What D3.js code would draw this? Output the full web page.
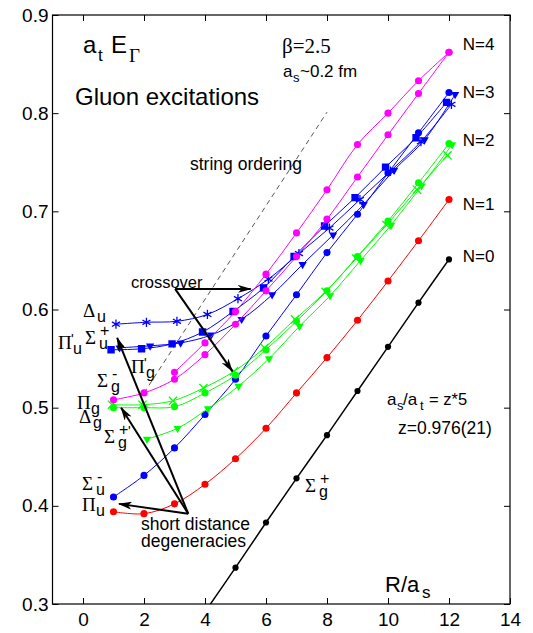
<!DOCTYPE html>
<html><head><meta charset="utf-8">
<script src="https://cdn.jsdelivr.net/npm/d3@7"></script>
<style>body{margin:0;background:#fff}svg{display:block}</style>
</head><body><svg id="c" width="533" height="633"></svg>
<script>
// ---------- data ----------
const rAll   = [1,2,3,4,5,6,7,8,9,10,11,12];
const rFrom2 = [2,3,4,5,6,7,8,9,10,11,12];
const rFrom3 = [3,4,5,6,7,8,9,10,11,12];
const rFrom4 = [4,5,6,7,8,9,10,11,12];

const sigmaGPlus      = [0.292,0.337,0.383,0.428,0.472,0.517,0.562,0.607,0.651];               // N=0 (black)
const piU             = [0.394,0.392,0.402,0.422,0.448,0.479,0.515,0.551,0.589,0.629,0.670,0.712]; // red
const sigmaUMinus     = [0.409,0.431,0.459,0.493,0.529,0.573,0.615,0.658,0.697,0.739,0.780,0.821]; // blue circles
const deltaU          = [0.585,0.587,0.588,0.595,0.611,0.631,0.657,0.683,0.712,0.741,0.771,0.809]; // blue asterisks
const piPrimeU        = [0.559,0.560,0.565,0.577,0.598,0.622,0.654,0.685,0.714,0.745,0.775,0.811]; // blue squares
const sigmaUPlus      = [0.561,0.563,0.566,0.574,0.590,0.615,0.646,0.676,0.707,0.742,0.773,0.819]; // blue triangles
const piG             = [0.503,0.503,0.507,0.520,0.537,0.561,0.590,0.618,0.652,0.686,0.722,0.757]; // green x
const deltaG          = [0.500,0.500,0.501,0.515,0.533,0.559,0.588,0.619,0.654,0.690,0.729,0.769]; // green circles
const sigmaGPlusPrime = [0.468,0.479,0.499,0.522,0.550,0.583,0.614,0.650,0.686,0.726,0.768];       // green triangles
const sigmaGMinus     = [0.508,0.515,0.529,0.554,0.585,0.619,0.654,0.692,0.735,0.778,0.820,0.862]; // magenta
const piPrimeG        = [0.536,0.566,0.598,0.636,0.678,0.722,0.768,0.800,0.833,0.862];             // magenta

const xTicks = [0,2,4,6,8,10,12,14];
const yTicks = [0.3,0.4,0.5,0.6,0.7,0.8,0.9];
const levelLabels = ["N=0","N=1","N=2","N=3","N=4"];
const levelValues = [0.655,0.707,0.773,0.822,0.870];

const stringOrderR = [2,8];
const stringOrderE = [0.515,0.801];

// ---------- series styles ----------
const series = [
  {r:rFrom4, v:sigmaGPlus,      color:"#000",    sym:"circle",   size:30, lw:1.5, dx:0},
  {r:rAll,   v:piU,             color:"#ff0000", sym:"circle",   size:40, lw:1,   dx:0},
  {r:rAll,   v:sigmaUMinus,     color:"#0000ff", sym:"circle",   size:40, lw:1,   dx:0},
  {r:rAll,   v:deltaU,          color:"#0000ff", sym:"asterisk", size:60, lw:1,   dx:0.08},
  {r:rAll,   v:piPrimeU,        color:"#0000ff", sym:"square",   size:55, lw:1,   dx:-0.08},
  {r:rAll,   v:sigmaUPlus,      color:"#0000ff", sym:"tri",      size:30, lw:1,   dx:0.2},
  {r:rAll,   v:piG,             color:"#00ff00", sym:"times",    size:45, lw:1,   dx:-0.05},
  {r:rAll,   v:deltaG,          color:"#00ff00", sym:"circle",   size:40, lw:1,   dx:0},
  {r:rFrom2, v:sigmaGPlusPrime, color:"#00ff00", sym:"tri",      size:30, lw:1,   dx:0.1},
  {r:rAll,   v:sigmaGMinus,     color:"#ff00ff", sym:"circle",   size:40, lw:1,   dx:0},
  {r:rFrom3, v:piPrimeG,        color:"#ff00ff", sym:"circle",   size:40, lw:1,   dx:0},
];

// ---------- scales ----------
const svg = d3.select("#c");
const L = 52.5, Rt = 510, T = 15, B = 604;
const x = d3.scaleLinear([-1,14],[L,Rt]);
const y = d3.scaleLinear([0.3,0.9],[B,T]);
const SANS = "'Liberation Sans', Arial, Helvetica, sans-serif";
const SERIF = "'Liberation Serif', 'Times New Roman', serif";

const defs = svg.append("defs");
defs.append("clipPath").attr("id","clip")
  .append("rect").attr("x",L).attr("y",T).attr("width",Rt-L).attr("height",B-T);
defs.append("marker").attr("id","ah").attr("viewBox","0 0 14 8").attr("refX",13).attr("refY",4)
  .attr("markerWidth",14).attr("markerHeight",8).attr("markerUnits","userSpaceOnUse").attr("orient","auto")
  .append("path").attr("d","M0,0 L14,4 L0,8 L4,4 Z").attr("fill","#000");

// ---------- axes ----------
function styleAxis(g){ g.select(".domain").remove(); g.selectAll("line").attr("stroke","#000").attr("stroke-width",1);
  g.selectAll("text").attr("font-family",SANS).attr("font-size",19).attr("fill","#000"); }
svg.append("g").attr("transform",`translate(0,${B})`)
  .call(d3.axisBottom(x).tickValues(xTicks).tickSize(-6).tickPadding(9).tickFormat(d3.format("d"))).call(styleAxis);
svg.append("g").attr("transform",`translate(0,${T})`)
  .call(d3.axisTop(x).tickValues(xTicks).tickSize(-6).tickFormat("")).call(styleAxis);
svg.append("g").attr("transform",`translate(${L},0)`)
  .call(d3.axisLeft(y).tickValues(yTicks).tickSize(-6).tickPadding(4).tickFormat(d3.format(".1f"))).call(styleAxis);
svg.append("g").attr("transform",`translate(${Rt},0)`)
  .call(d3.axisRight(y).tickValues(yTicks).tickSize(-6).tickFormat("")).call(styleAxis);
svg.append("rect").attr("x",L).attr("y",T).attr("width",Rt-L).attr("height",B-T)
  .attr("fill","none").attr("stroke","#000").attr("stroke-width",1.2);

// ---------- string ordering dashed line ----------
svg.append("line").attr("x1",x(stringOrderR[0])).attr("y1",y(stringOrderE[0]))
  .attr("x2",x(stringOrderR[1])).attr("y2",y(stringOrderE[1]))
  .attr("stroke","#555").attr("stroke-width",1).attr("stroke-dasharray","5,4");

// ---------- series ----------
const plot = svg.append("g").attr("clip-path","url(#clip)");
const symMap = {circle:d3.symbolCircle, square:d3.symbolSquare, tri:d3.symbolTriangle, times:d3.symbolTimes, asterisk:d3.symbolAsterisk};
series.forEach(s=>{
  const pts = s.r.map((r,i)=>[r+s.dx, s.v[i]]);
  plot.append("path").datum(pts)
    .attr("d", d3.line().x(d=>x(d[0])).y(d=>y(d[1])).curve(d3.curveCatmullRom.alpha(0.5)))
    .attr("fill","none").attr("stroke",s.color).attr("stroke-width",s.lw);
  const stroked = (s.sym==="times"||s.sym==="asterisk");
  plot.selectAll(null).data(pts).join("path")
    .attr("transform",d=>`translate(${x(d[0])},${y(d[1])})${s.sym==="tri"?" rotate(180)":""}`)
    .attr("d", d3.symbol(symMap[s.sym], s.size))
    .attr("fill", stroked?"none":s.color)
    .attr("stroke", stroked?s.color:"none").attr("stroke-width",1.3);
});

// ---------- arrows ----------
const arrows = [
  {from:[3.02,0.621], to:[5.5,0.621]},
  {from:[3.02,0.621], to:[4.9,0.537]},
  {from:[3.45,0.392], to:[1.18,0.402]},
  {from:[3.45,0.392], to:[1.25,0.500]},
  {from:[3.45,0.392], to:[1.12,0.571]},
];
arrows.forEach(a=>{
  svg.append("line").attr("x1",x(a.from[0])).attr("y1",y(a.from[1]))
    .attr("x2",x(a.to[0])).attr("y2",y(a.to[1]))
    .attr("stroke","#000").attr("stroke-width",2).attr("marker-end","url(#ah)");
});

// ---------- text helpers ----------
function rich(x0, y0, parts){
  const t = svg.append("text").attr("x",0).attr("y",0).attr("fill","#000");
  parts.forEach(p=>{
    t.append("tspan").attr("x",x0+(p.dx||0)).attr("y",y0+(p.dy||0))
      .attr("font-family",p.f||SANS).attr("font-size",p.s||16).text(p.t);
  });
  return t;
}
// title
rich(83,53,[{t:"a",s:24},{t:"t",dx:15,dy:8,s:17},{t:"E",dx:28,s:24},{t:"Γ",dx:46,dy:9,s:19,f:SERIF}]);
rich(75,105,[{t:"Gluon excitations",s:24}]);
rich(282,53,[{t:"β=2.5",s:21,f:SERIF}]);
rich(283,77,[{t:"a",s:17},{t:"s",dx:10,dy:5,s:13},{t:"~0.2 fm",dx:17,s:17}]);
rich(190,170,[{t:"string ordering",s:17.5}]);
rich(131,288,[{t:"crossover",s:16.5}]);
rich(141,530,[{t:"short distance",s:17.5}]);
rich(141,547,[{t:"degeneracies",s:17.5}]);
rich(387,405,[{t:"a",s:17},{t:"s",dx:10,dy:5,s:13},{t:"/a",dx:16,s:17},{t:"t",dx:33,dy:5,s:13},{t:"= z*5",dx:42,s:16.5}]);
rich(398,434,[{t:"z=0.976(21)",s:17.5}]);
rich(385,592,[{t:"R/a",s:22},{t:"s",dx:37,dy:6,s:17}]);
// level labels
levelLabels.forEach((lab,i)=>{
  rich(x(12.45), y(levelValues[i])+6, [{t:lab,s:17}]);
});
// state labels (greek main in serif, sub in sans)
function state(x0,y0,main,sub,sup,prime){
  const parts=[{t:main,s:19,f:SERIF}];
  if(prime) parts.push({t:"'",dx:13,dy:-5,s:14,f:SANS});
  if(sub) parts.push({t:sub,dx:prime?15:14,dy:5,s:16});
  if(sup) parts.push({t:sup,dx:15,dy:-8,s:16});
  return rich(x0,y0,parts);
}
state(83,317,"Δ","u");
state(58,349,"Π","u",null,true);
state(85,344,"Σ","u","+");
state(131,373,"Π","g",null,true);
state(97,387,"Σ","g","-");
state(77,409,"Π","g");
state(79,423,"Δ","g");
state(104,443,"Σ","g","+");
rich(128,436,[{t:"'",s:14}]);
state(82,490,"Σ","u","-");
state(82,511,"Π","u");
state(305,492,"Σ","g","+");
</script></body></html>
